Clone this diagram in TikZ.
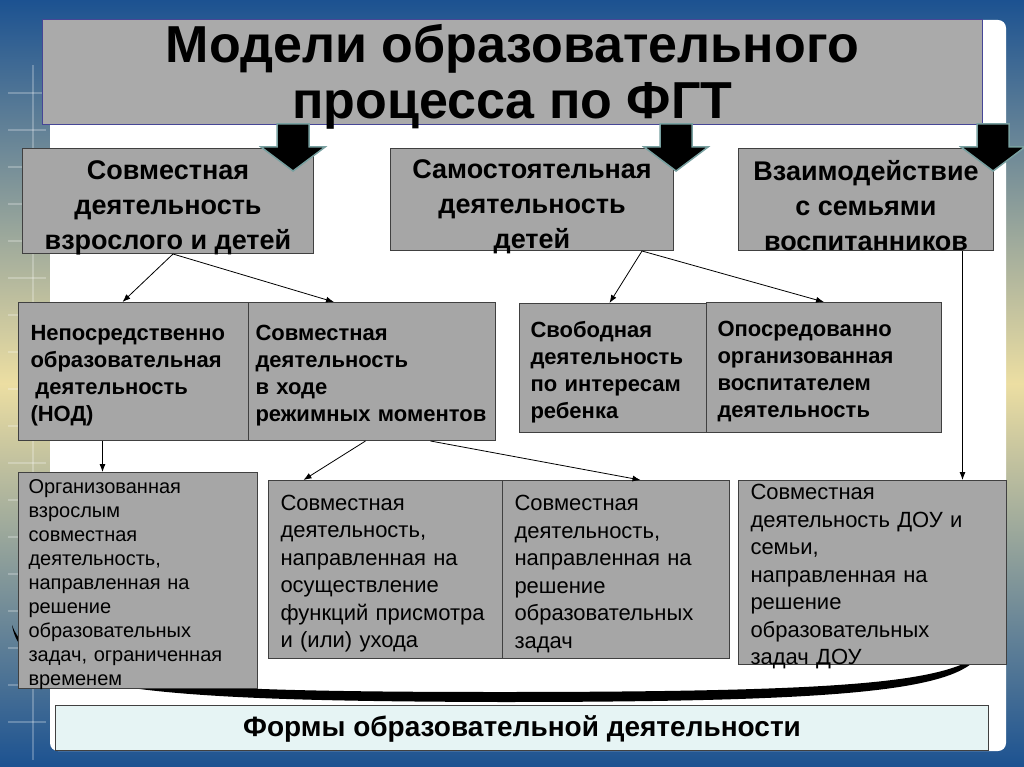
\documentclass[tikz,border=0pt]{standalone}
\usepackage{fontspec}
\setmainfont{Liberation Sans}
\usetikzlibrary{arrows.meta,calc}

\definecolor{slideblue}{RGB}{28,82,145}
\definecolor{slidecream}{RGB}{236,222,162}
\definecolor{boxgray}{RGB}{166,166,166}
\definecolor{titlegray}{RGB}{170,170,170}
\definecolor{titleline}{RGB}{70,70,150}
\definecolor{arrowrim}{RGB}{120,160,160}
\definecolor{formfill}{RGB}{230,244,244}

% a strut on the first line pushes the text down inside its box
\newcommand{\topstrut}[1]{\rule{0pt}{#1}}

\tikzset{
  box/.style={draw=black!75, line width=1pt, fill=boxgray, inner xsep=0pt, inner ysep=-40pt, anchor=north west},
  topbox/.style={box, align=center, font=\fontsize{27}{35}\selectfont\bfseries},
  midbox/.style={box, align=left, font=\fontsize{22}{27}\selectfont\bfseries},
  lowbox/.style={box, align=left, font=\fontsize{22}{27.5}\selectfont},
  link/.style={-{Latex[length=8pt,width=6pt]}, line width=0.8pt},
}

\begin{document}
\begin{tikzpicture}[x=1pt,y=-1pt]
\useasboundingbox (0,0) rectangle (1024,767);
% slide background
\shade[top color=slideblue, bottom color=slideblue, middle color=slidecream] (0,0) rectangle (1024,767);
\draw[white, opacity=.25, line width=1.5pt] (33,65) -- (33,760);
\foreach \y in {93,130,...,730} \draw[white, opacity=.25, line width=1.5pt] (8,\y) -- (46,\y);
\fill[white, rounded corners=8pt] (50,20) rectangle (1006,751);

% the long bracket under the forms
\fill[black] (12,625) .. controls (22,690) and (150,701) .. (500,702)
  .. controls (850,702) and (955,690) .. (980,655)
  .. controls (940,682) and (850,692) .. (500,692)
  .. controls (150,692) and (32,682) .. (12,625) -- cycle;

% title
\node[box, draw=titleline, line width=.6pt, fill=titlegray, align=center,
  minimum width=940pt, minimum height=105pt,
  font=\fontsize{52}{56}\selectfont\bfseries] (title) at (42,19)
  {\topstrut{48pt}Модели образовательного\\процесса по ФГТ};

% first level
\node[topbox, minimum width=291pt, minimum height=105pt] (joint) at (22,148)
  {\topstrut{33pt}Совместная\\деятельность\\взрослого и детей};
\node[topbox, minimum width=283pt, minimum height=102pt] (indep) at (390,148)
  {\topstrut{33pt}Самостоятельная\\деятельность\\детей};
\node[topbox, minimum width=255pt, minimum height=102pt] (family) at (738,148)
  {\topstrut{33pt}Взаимодействие\\с семьями\\воспитанников};

% second level
\node[midbox, minimum width=230pt, minimum height=138pt, text width=206pt] (nod) at (18,302)
  {\topstrut{24pt}Непосредственно\\образовательная\\\hspace{5pt}деятельность\\(НОД)};
\node[midbox, minimum width=247pt, minimum height=138pt, text width=233pt] (regime) at (248,302)
  {\topstrut{24pt}Совместная\\деятельность\\в ходе\\режимных моментов};
\node[midbox, minimum width=187pt, minimum height=129pt, text width=165pt] (free) at (519,303)
  {\topstrut{24pt}Свободная\\деятельность\\по интересам\\ребенка};
\node[midbox, minimum width=235pt, minimum height=130pt, text width=213pt] (medi) at (706,302)
  {\topstrut{24pt}Опосредованно\\организованная\\воспитателем\\деятельность};

% third level
\node[lowbox, font=\fontsize{20}{24}\selectfont, minimum width=239pt, minimum height=216pt, text width=219pt] (org) at (18,472)
  {\topstrut{22.5pt}Организованная\\взрослым\\совместная\\деятельность,\\направленная на\\решение\\образовательных\\задач, ограниченная\\временем};
\node[lowbox, minimum width=234pt, minimum height=178pt, text width=210pt] (care) at (268,480)
  {\topstrut{24pt}Совместная\\деятельность,\\направленная на\\осуществление\\функций присмотра\\и (или) ухода};
\node[lowbox, minimum width=227pt, minimum height=178pt, text width=203pt] (tasks) at (502,480)
  {\topstrut{24pt}Совместная\\деятельность,\\направленная на\\решение\\образовательных\\задач};
\node[lowbox, minimum width=268pt, minimum height=184pt, text width=244pt] (dou) at (738,480)
  {\topstrut{24pt}Совместная\\деятельность ДОУ и\\семьи,\\направленная на\\решение\\образовательных\\задач ДОУ};

% bottom caption
\node[box, fill=formfill, align=center, minimum width=933pt, minimum height=45pt,
  font=\fontsize{28}{32}\selectfont\bfseries] (forms) at (55,705)
  {\topstrut{22pt}Формы образовательной деятельности};

% block arrows from the title
\foreach \x in {293,676,993}
  \filldraw[fill=black, draw=arrowrim, line width=1.5pt, line join=miter]
    (\x-16,124) -- (\x+16,124) -- (\x+16,147) -- (\x+32,147) -- (\x,171)
    -- (\x-32,147) -- (\x-16,147) -- cycle;

% connectors
\draw[link] ([xshift=5pt]joint.south) -- ([xshift=-11pt]nod.north);
\draw[link] ([xshift=5pt]joint.south) -- ([xshift=-38pt]regime.north);
\draw[link] ([xshift=110pt]indep.south) -- ([xshift=-3.5pt]free.north);
\draw[link] ([xshift=110pt]indep.south) -- (medi.north);
\draw[link] ([xshift=96.5pt]family.south) -- ([xshift=96.5pt]family.south |- dou.north);
\draw[link] ([xshift=-31pt]nod.south) -- ([xshift=-31pt]nod.south |- org.north);
\draw[link] ([xshift=-6.5pt]regime.south) -- ([xshift=-82pt]care.north);
\draw[link] ([xshift=58.5pt]regime.south) -- ([xshift=24.5pt]tasks.north);
\end{tikzpicture}
\end{document}
